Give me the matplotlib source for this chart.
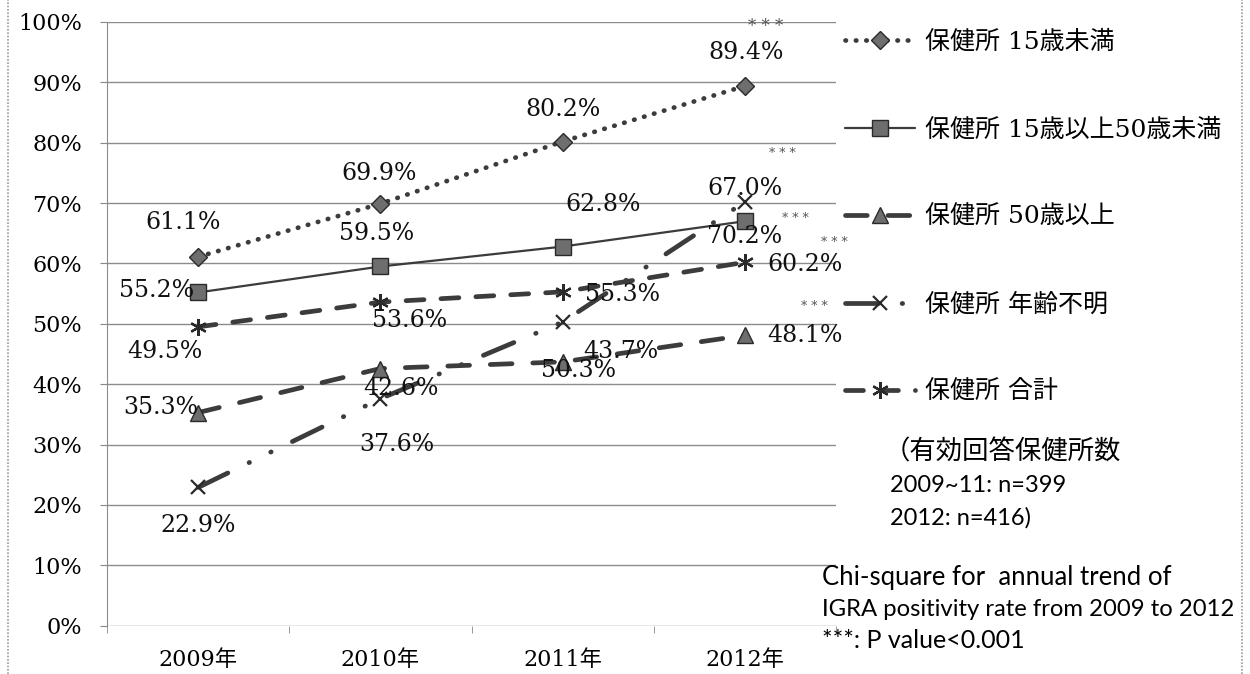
import matplotlib.pyplot as plt
from matplotlib.lines import Line2D

# data
years = ["2009年", "2010年", "2011年", "2012年"]
series_names = [
    "保健所 15歳未満",
    "保健所 15歳以上50歳未満",
    "保健所 50歳以上",
    "保健所 年齢不明",
    "保健所 合計",
]
under15 = [61.1, 69.9, 80.2, 89.4]
age15to50 = [55.2, 59.5, 62.8, 67.0]
over50 = [35.3, 42.6, 43.7, 48.1]
unknown = [22.9, 37.6, 50.3, 70.2]
total = [49.5, 53.6, 55.3, 60.2]
y_ticks = [0, 10, 20, 30, 40, 50, 60, 70, 80, 90, 100]

W, H = 1250, 674
LINE = "#3c3c3c"
FILL = "#6e6e6e"
SERIF = ["DejaVu Serif", "Noto Sans CJK JP"]

styles = [
    dict(ls=(0, (0.1, 2.1)), lw=3.4, marker="D", ms=9),
    dict(ls="-", lw=1.6, marker="s", ms=11),
    dict(ls=(0, (4.6, 4.4)), lw=3.4, marker="^", ms=11),
    dict(ls=(0, (7, 5, 0.1, 5, 0.1, 5)), lw=3.4, marker="x", ms=10),
    dict(ls=(0, (3.8, 3.6)), lw=3.4, marker=(6, 2, 0), ms=12),
]

# label offsets in pixels (dx, dy up)
offsets = [
    [(-15, 34), (-1, 30), (0, 32), (1, 33)],
    [(-42, 2), (-4, 33), (40, 42), (0, 33)],
    [(-37, 5), (21, -20), (58, 10), (60, 0)],
    [(0, -38), (16, -46), (16, -48), (0, -35)],
    [(-33, -25), (29, -18), (60, -3), (60, -2)],
]
star_offsets = [(21, 59), (50, 3), (69, 29), (37, 48), (89, 20)]
star_sizes = [12, 9, 9, 9, 9]

fig = plt.figure(figsize=(W / 100, H / 100), dpi=100)
ax = fig.add_axes([107 / W, 1 - 625.7 / H, (836 - 107) / W, (625.7 - 22) / H])

x = list(range(len(years)))
data = [under15, age15to50, over50, unknown, total]
handles = []
for vals, st, name in zip(data, styles, series_names):
    mew = 1.6 if st["marker"] in ("x", (6, 2, 0)) else 1.0
    (ln,) = ax.plot(
        x, vals, color=LINE, linestyle=st["ls"], linewidth=st["lw"],
        dash_capstyle="round", solid_capstyle="round",
        marker=st["marker"], markersize=st["ms"], markerfacecolor=FILL,
        markeredgecolor="#2a2a2a", markeredgewidth=mew, label=name, zorder=3,
    )
    handles.append(ln)

for vals, offs in zip(data, offsets):
    for xi, v, (dx, dy) in zip(x, vals, offs):
        ax.annotate(f"{v:.1f}%", (xi, v), xytext=(dx * 0.72, dy * 0.72),
                    textcoords="offset points", ha="center", va="center",
                    fontsize=17, family=SERIF, color="#111111", zorder=4)

for vals, (dx, dy), fs in zip(data, star_offsets, star_sizes):
    ax.annotate("* * *", (x[-1], vals[-1]), xytext=(dx * 0.72, dy * 0.72),
                textcoords="offset points", ha="center", va="center",
                fontsize=fs, family="DejaVu Serif", color="#555555")

ax.set_xlim(-0.5, 3.5)
ax.set_ylim(0, 100)
ax.set_yticks(y_ticks)
ax.set_yticklabels([f"{t}%" for t in y_ticks], family=SERIF, fontsize=16)
ax.set_xticks(x)
ax.set_xticklabels(years, family=SERIF, fontsize=16)
ax.set_xticks([-0.5, 0.5, 1.5, 2.5, 3.5], minor=True)
ax.tick_params(axis="x", which="major", length=0, pad=17)
ax.tick_params(axis="x", which="minor", length=5, color="#888888", direction="out")
ax.tick_params(axis="y", length=5, color="#888888", pad=13)
ax.grid(axis="y", color="#8c8c8c", linewidth=1.0)
ax.set_axisbelow(True)
for s in ["top", "right", "bottom"]:
    ax.spines[s].set_visible(False)
ax.spines["left"].set_color("#8c8c8c")

fig.legend(handles, series_names, loc="upper left",
           bbox_to_anchor=(845 / W, 1 - 31 / H), frameon=False,
           handlelength=2.8, handletextpad=0.4, labelspacing=2.57,
           borderpad=0, borderaxespad=0,
           prop={"family": SERIF, "size": 18})

fig.text(884 / W, 1 - 452 / H, "（有効回答保健所数", family="Noto Sans CJK JP",
         fontsize=19, va="center", ha="left")
note_lines = [
    (890, 486, 17, "2009~11: n=399"),
    (890, 518, 17, "2012: n=416)"),
    (822, 578, 18.5, "Chi-square for  annual trend of"),
    (822, 609, 17.2, "IGRA positivity rate from 2009 to 2012"),
    (822, 641, 18, "***: P value<0.001"),
]
for px, py, fs, t in note_lines:
    fig.text(px / W, 1 - py / H, t, family="Lato", fontsize=fs,
             va="center", ha="left")

for bx in (8, 1242):
    fig.add_artist(Line2D([bx / W, bx / W], [0, 1], transform=fig.transFigure,
                          color="#9a9a9a", linewidth=1.2, linestyle=(0, (1, 1))))

fig.savefig("out.png", dpi=100)
